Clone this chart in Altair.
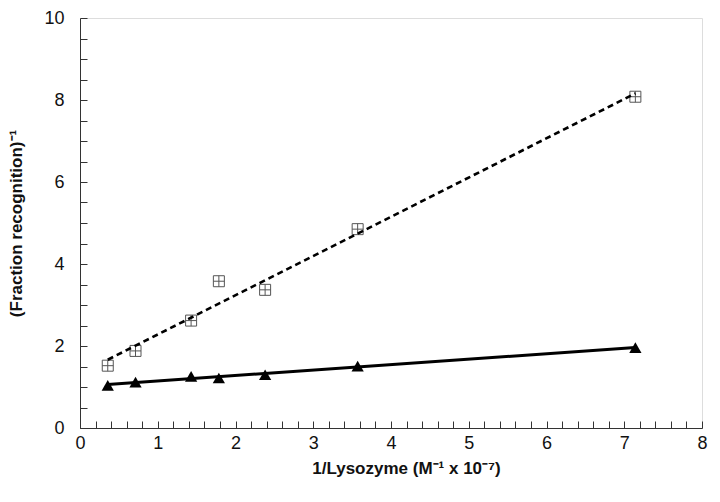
import altair as alt
import pandas as pd

# 1/Lysozyme (M^-1 x 10^-7)
x_vals = [0.357, 0.714, 1.429, 1.786, 2.381, 3.571, 7.143]
# open squares with cross (dashed fit)
squares = [1.52, 1.88, 2.62, 3.58, 3.37, 4.85, 8.08]
# filled triangles (solid fit)
triangles = [1.04, 1.12, 1.26, 1.22, 1.30, 1.51, 1.96]

x_ticks = [round(i * 0.2, 1) for i in range(41)]
y_ticks = [round(i * 0.5, 1) for i in range(21)]

df = pd.DataFrame({"x": x_vals, "sq": squares, "tri": triangles})

FONT = "Liberation Sans"
XS = alt.Scale(domain=[0, 8], nice=False, zero=False)
YS = alt.Scale(domain=[0, 10], nice=False, zero=False)

base = alt.Chart(df)

main_x = alt.Axis(values=x_ticks, ticks=True, tickSize=alt.ExprRef("-7"), tickColor="#333333",
                  tickWidth=1, grid=False, domain=True,
                  domainColor="#333333", domainWidth=1, labelFont=FONT, labelFontSize=18,
                  labelColor="#111111", labelPadding=13, labelFlush=False, labelOverlap=False,
                  labelExpr="abs(datum.value - round(datum.value)) < 0.001 ? format(datum.value, 'd') : ''",
                  title="1/Lysozyme  (M⁻¹ x 10⁻⁷)", titleFont=FONT, titleFontSize=17,
                  titleFontWeight="bold", titleColor="#111111", titleX=326, titleY=40,
                  titleBaseline="middle", titleAlign="center", orient="bottom")
main_y = alt.Axis(values=y_ticks, ticks=True, tickSize=alt.ExprRef("-7"), tickColor="#333333",
                  tickWidth=1, grid=False, domain=True,
                  domainColor="#333333", domainWidth=1, labelFont=FONT, labelFontSize=18,
                  labelColor="#111111", labelPadding=23, labelFlush=False, labelOverlap=False,
                  labelExpr="abs(datum.value / 2 - round(datum.value / 2)) < 0.001 ? format(datum.value, 'd') : ''",
                  title="(Fraction recognition)⁻¹", titleFont=FONT, titleFontSize=17,
                  titleFontWeight="bold", titleColor="#111111", titleX=-64, titleY=205,
                  titleAngle=-90, titleBaseline="middle", titleAlign="center", orient="left")

cross_square = "M-1,-1L1,-1L1,1L-1,1Z M0,-1L0,1 M-1,0L1,0"

sq_pts = base.mark_point(shape=cross_square, filled=False, size=121, stroke="#555555",
                         strokeWidth=1, opacity=1).encode(
    x=alt.X("x:Q", scale=XS, axis=main_x),
    y=alt.Y("sq:Q", scale=YS, axis=main_y),
)

dash_line = base.transform_regression("x", "sq").mark_line(
    color="black", strokeWidth=2.6, strokeDash=[6, 4]).encode(
    x=alt.X("x:Q", scale=XS, axis=main_x),
    y=alt.Y("sq:Q", scale=YS, axis=main_y),
)
solid_line = base.transform_regression("x", "tri").mark_line(
    color="black", strokeWidth=3).encode(
    x=alt.X("x:Q", scale=XS, axis=main_x),
    y=alt.Y("tri:Q", scale=YS, axis=main_y),
)
tri_pts = base.mark_point(shape="triangle-up", filled=True, size=150, color="black",
                          opacity=1).encode(
    x=alt.X("x:Q", scale=XS, axis=main_x),
    y=alt.Y("tri:Q", scale=YS, axis=main_y),
)

chart = alt.layer(sq_pts, dash_line, solid_line, tri_pts).properties(
    width=622, height=410,
    autosize=alt.AutoSizeParams(type="none"),
    padding={"left": 72, "top": 10, "right": 10, "bottom": 56},
).configure_view(stroke=None).configure(background="white")

chart.save("out.html", embed_options={"renderer": "svg", "actions": False})
